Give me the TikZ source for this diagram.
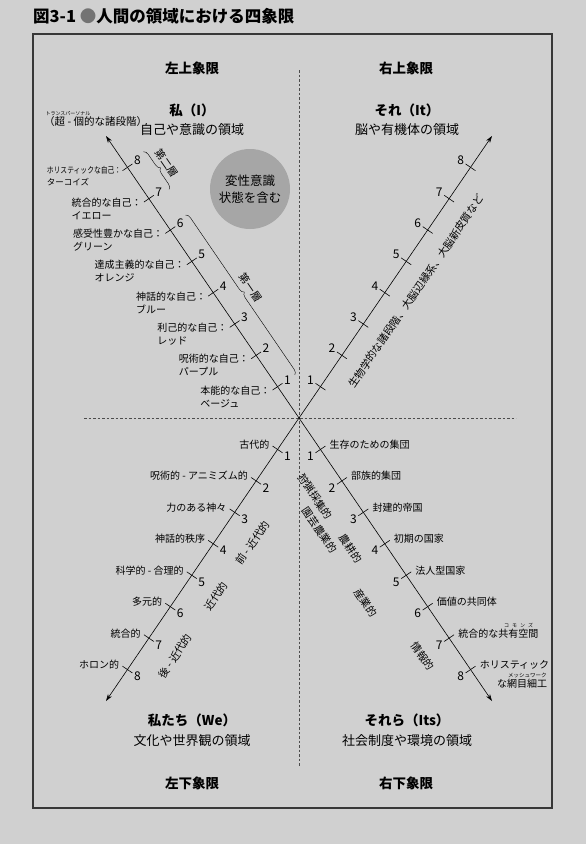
\documentclass[tikz,border=0pt]{standalone}
\usepackage{fontspec}
\setmainfont{Noto Sans CJK JP}
\usetikzlibrary{calc,arrows.meta,decorations.pathreplacing}
\definecolor{bggray}{RGB}{208,208,208}
\definecolor{ballgray}{RGB}{166,166,166}
\definecolor{framegray}{RGB}{55,55,55}
\begin{document}
\begin{tikzpicture}[x=1pt,y=-1pt,
    axis/.style={line width=0.6pt,-{Stealth[length=7pt,width=4.5pt]}},
    guide/.style={dash pattern=on 2.5pt off 2pt,line width=0.6pt,black!70},
    tickmark/.style={line width=0.6pt},
    num/.style={font=\fontsize{12}{12}\selectfont,inner sep=0pt},
    stage/.style={font=\fontsize{10}{13}\selectfont,inner sep=0pt,align=left},
    era/.style={font=\fontsize{10.5}{13}\selectfont,inner sep=0pt,align=center},
    head/.style={font=\fontsize{13.5}{16}\selectfont\bfseries,inner sep=0pt},
    sub/.style={font=\fontsize{13}{16}\selectfont,inner sep=0pt},
    ruby/.style={font=\fontsize{5}{6}\selectfont,inner sep=0pt}]
    \fill[bggray] (0,0) rectangle (586,844);
    \useasboundingbox (0,0) rectangle (586,844);

    % title and frame
    \node[anchor=west,inner sep=0pt,font=\fontsize{16.5}{18}\selectfont\bfseries]
        (title) at (33,16) {図3-1 {\color{black!55}●}人間の領域における四象限};
    \draw[framegray,line width=1.1pt] (33,34) rectangle (552,808);

    % quadrant guides
    \coordinate (C) at (299,418);
    \coordinate (vt) at (299,70);  \coordinate (vb) at (299,767);
    \coordinate (hl) at (84,418);  \coordinate (hr) at (516,418);
    \draw[guide] (vt) -- (vb) (hl) -- (hr);

    % four arms with ticks 1..8
    \coordinate (UL) at (106,136); \coordinate (UR) at (492,136);
    \coordinate (LL) at (106,701); \coordinate (LR) at (492,701);
    \foreach \arm/\side in {UL/-90,UR/90,LL/90,LR/-90}{
        \draw[axis] (C) -- (\arm);
        \foreach \k in {1,...,8}{
            \coordinate (\arm\k) at ($(C)!\k/9!(\arm)$);
            \draw[tickmark] ($(\arm\k)!6pt!90:(\arm)$) -- ($(\arm\k)!6pt!-90:(\arm)$);
            \node[num] (n\arm\k) at ($(\arm\k)!12pt!\side:(\arm)$) {\k};
        }
    }

    % quadrant headings
    \node[head] (qUL) at (192,68) {左上象限};
    \node[head] (qUR) at (406,68) {右上象限};
    \node[head] (qLL) at (192,783) {左下象限};
    \node[head] (qLR) at (406,783) {右下象限};
    \node[head] (hI) at (192,110) {私（I）};
    \node[sub] (dI) at (192,130) {自己や意識の領域};
    \node[head] (hIt) at (407,110) {それ（It）};
    \node[sub] (dIt) at (407,130) {脳や有機体の領域};
    \node[head] (hWe) at (192,720) {私たち（We）};
    \node[sub] (dWe) at (192,741) {文化や世界観の領域};
    \node[head] (hIts) at (407,720) {それら（Its）};
    \node[sub] (dIts) at (407,741) {社会制度や環境の領域};

    % upper left: stages of the self
    \node[stage,anchor=west,font=\fontsize{10.5}{13}\selectfont] (trans) at (44,122) {（超 - 個的な諸段階）};
    \node[ruby,anchor=south] (rtrans) at ($(trans.north west)+(24,-1)$) {トランスパーソナル};
    \foreach \k/\txt in {1/{本能的な自己：\\ベージュ},2/{呪術的な自己：\\パープル},
        3/{利己的な自己：\\レッド},4/{神話的な自己：\\ブルー},5/{達成主義的な自己：\\オレンジ},
        6/{感受性豊かな自己：\\グリーン},7/{統合的な自己：\\イエロー}}
        \node[stage,anchor=north east] (sUL\k) at ($(UL\k)+(-7,-1)$) {\txt};
    \node[stage,anchor=north east,font=\fontsize{8.5}{12}\selectfont] (sUL8) at ($(UL8)+(-6,-1)$)
        {\scalebox{0.8}[1]{ホリスティックな自己：}\\ターコイズ};

    % tiers
    \coordinate (t1a) at ($(C)!6.1/9!(UL)$); \coordinate (t1b) at ($(C)!1/9!(UL)$);
    \coordinate (t2a) at ($(C)!8.1/9!(UL)$); \coordinate (t2b) at ($(C)!6.9/9!(UL)$);
    \draw[decorate,decoration={brace,amplitude=5pt}]
        ($(t1a)!21pt!-90:(UL)$) -- ($(t1b)!21pt!90:(C)$);
    \draw[decorate,decoration={brace,amplitude=5pt}]
        ($(t2a)!22pt!-90:(UL)$) -- ($(t2b)!22pt!90:(C)$);
    \coordinate (t1m) at ($(C)!3.55/9!(UL)$); \coordinate (t2m) at ($(C)!7.5/9!(UL)$);
    \node[era,rotate=-55.6] (tier1) at ($(t1m)!34pt!-90:(UL)$) {第一層};
    \node[era,rotate=-55.6] (tier2) at ($(t2m)!35pt!-90:(UL)$) {第二層};

    \node[circle,fill=ballgray,minimum size=80pt,inner sep=0pt,align=center,
        font=\fontsize{12.5}{17}\selectfont] (alt) at (250,189) {変性意識\\状態を含む};

    % upper right
    \coordinate (mUR) at ($(C)!0.5!(UR)$);
    \node[era,rotate=55.6] (bio) at ($(mUR)!25pt!-90:(UR)$) {生物学的な諸段階、大脳辺縁系、大脳新皮質など};

    % lower left: worldviews
    \foreach \k/\txt in {1/古代的,2/{呪術的 - アニミズム的},3/力のある神々,4/神話的秩序,
        5/{科学的 - 合理的},6/多元的,7/統合的,8/ホロン的}
        \node[stage,anchor=base east] (sLL\k) at ($(LL\k)+(-8,-1)$) {\txt};
    \foreach \f/\d/\txt/\nm in {3.4/32pt/{前 - 近代的}/pre,5.1/32pt/近代的/mod,7.0/32pt/{後 - 近代的}/post}{
        \coordinate (\nm) at ($(C)!\f/9!(LL)$);
        \node[era,rotate=55.6] (\nm lab) at ($(\nm)!\d!90:(LL)$) {\txt};
    }

    % lower right: social systems
    \foreach \k/\txt in {1/生存のための集団,2/部族的集団,3/封建的帝国,4/初期の国家,
        5/法人型国家,6/価値の共同体,7/統合的な共有空間}
        \node[stage,anchor=base west] (sLR\k) at ($(LR\k)+(9,-1)$) {\txt};
    \node[stage,anchor=base west] (sLR8) at ($(LR8)+(9,-1)$) {ホリスティック};
    \node[stage,anchor=base east] (sLR8b) at ($(sLR8.base east)+(-2,19)$) {な網目細工};
    \node[ruby,anchor=south] (rLR7) at ($(sLR7.north east)+(-20,-1)$) {コ\hspace{3pt}モ\hspace{3pt}ン\hspace{3pt}ズ};
    \node[ruby,anchor=south,font=\fontsize{5.5}{6}\selectfont] (rLR8) at ($(sLR8b.north east)+(-20,-1)$) {メッシュワーク};
    \foreach \f/\d/\txt/\nm in {1.95/31pt/狩猟採集的/hunt,2.75/46pt/園芸農業的/hort,3.6/31pt/農耕的/agr,
        5.0/49pt/産業的/ind,7.0/32pt/情報的/inf}{
        \coordinate (\nm) at ($(C)!\f/9!(LR)$);
        \node[era,rotate=-55.6] (\nm lab) at ($(\nm)!\d!-90:(LR)$) {\txt};
    }
\end{tikzpicture}
\end{document}
